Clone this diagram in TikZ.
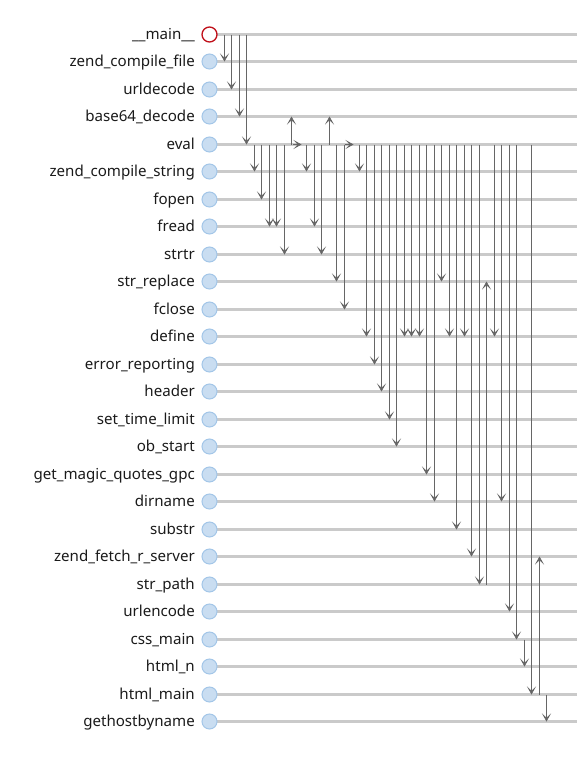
\documentclass[tikz,border=0pt]{standalone}
\usepackage{fontspec}
\setmainfont{Noto Sans}
\usetikzlibrary{arrows.meta}
\definecolor{rowgray}{HTML}{CACACA}
\definecolor{callgray}{HTML}{666666}
\definecolor{nodefill}{HTML}{C9DDF1}
\definecolor{nodeedge}{HTML}{A3C6E8}
\definecolor{mainred}{HTML}{C0101A}
\definecolor{labelcol}{HTML}{1A1A1A}
\begin{document}
\begin{tikzpicture}[x=1pt,y=-1pt,
  rowline/.style={draw=rowgray,line width=3pt},
  fnnode/.style={circle,draw=nodeedge,fill=nodefill,line width=1pt,minimum size=15pt,inner sep=0pt},
  mainnode/.style={circle,draw=mainred,fill=white,line width=1.3pt,minimum size=15pt,inner sep=0pt},
  fnlabel/.style={anchor=base east,inner sep=0pt,text=labelcol,font=\fontsize{15.1}{17}\selectfont},
  tipstyle/.style={-{Stealth[length=8pt,width=9pt,inset=4.2pt,line width=0.6pt]}},
  call/.style={draw=callgray,line width=1.6pt,tipstyle},
  selfcall/.style={draw=callgray,line width=1.6pt,tipstyle}
]
\useasboundingbox (0,0) rectangle (577,761);
% rows
\foreach \lab [count=\i from 0] in {\_\_main\_\_,zend\_compile\_file,urldecode,base64\_decode,eval,zend\_compile\_string,fopen,fread,strtr,str\_replace,fclose,define,error\_reporting,header,set\_time\_limit,ob\_start,get\_magic\_quotes\_gpc,dirname,substr,zend\_fetch\_r\_server,str\_path,urlencode,css\_main,html\_n,html\_main,gethostbyname}{
  \coordinate (p\i) at (209.5,{round(34+27.48*\i)+0.5});
  \coordinate (e\i) at (577,{round(34+27.48*\i)+0.5});
  \draw[rowline] (p\i) -- (e\i);
  \node[fnlabel] (l\i) at (195,{39.5+27.48*\i}) {\lab};
}
% calls
\foreach \k/\s/\t in {0/0/1,1/0/2,2/0/3,3/0/4,4/4/5,5/4/6,6/4/7,7/4/7,8/4/8,9/4/3,11/4/5,12/4/7,13/4/8,14/4/3,15/4/9,16/4/10,18/4/5,19/4/11,20/4/12,21/4/13,22/4/14,23/4/15,24/4/11,25/4/11,26/4/11,27/4/16,28/4/17,29/4/9,30/4/11,31/4/18,32/4/11,33/4/19,34/4/20,35/20/9,36/4/11,37/4/17,38/4/21,39/4/22,40/22/23,41/4/24,42/24/19,43/24/25}{
  \coordinate (a\k) at ({round(224+7.49*\k)+0.5},{round(34+27.48*\s)+0.5});
  \coordinate (b\k) at ({round(224+7.49*\k)+0.5},{round(34+27.48*\t)+0.5});
  \draw[call] (a\k) -- (b\k);
}
% self calls of eval
\foreach \k in {10,17}{
  \coordinate (a\k) at ({round(224+7.49*\k)-6.5},{round(34+27.48*4)+0.5});
  \coordinate (b\k) at ({round(224+7.49*\k)+2.5},{round(34+27.48*4)+0.5});
  \draw[selfcall] (a\k) -- (b\k);
}
% nodes
\node[mainnode] (r0) at (p0) {};
\foreach \i in {1,...,25}{
  \node[fnnode] (r\i) at (p\i) {};
}
\end{tikzpicture}
\end{document}
